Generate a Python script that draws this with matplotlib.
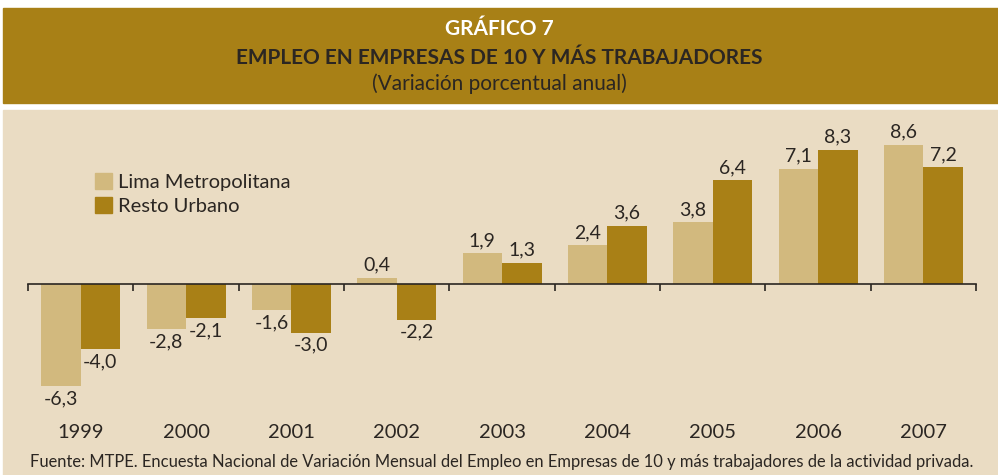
import matplotlib
matplotlib.use("Agg")
from matplotlib import pyplot as plt
from matplotlib import transforms
from matplotlib.patches import Rectangle, Patch

years = ["1999", "2000", "2001", "2002", "2003", "2004", "2005", "2006", "2007"]
lima = [-6.3, -2.8, -1.6, 0.4, 1.9, 2.4, 3.8, 7.1, 8.6]
resto = [-4.0, -2.1, -3.0, -2.2, 1.3, 3.6, 6.4, 8.3, 7.2]
series_names = ["Lima Metropolitana", "Resto Urbano"]

LIMA_COLOR = "#D2B97E"
RESTO_COLOR = "#A98016"
HEADER_COLOR = "#A88016"
PANEL_COLOR = "#EADCC3"
TEXT_COLOR = "#2b2622"

plt.rcParams["font.family"] = ["Lato", "DejaVu Sans"]

W, H = 998, 475
fig = plt.figure(figsize=(W / 100, H / 100), dpi=100)


def fx(px):
    return px / W


def fy(py):
    return 1 - py / H


# header band and panel background
fig.patches.append(Rectangle((fx(3), fy(103)), 1, (103 - 8) / H,
                             transform=fig.transFigure, color=HEADER_COLOR, zorder=-5))
fig.patches.append(Rectangle((fx(3), 0), 1, fy(110),
                             transform=fig.transFigure, color=PANEL_COLOR, zorder=-5))

fig.text(0.5, fy(29), "GRÁFICO 7", ha="center", va="center",
         color="white", fontsize=15, fontweight="bold")
fig.text(0.5, fy(58), "EMPLEO EN EMPRESAS DE 10 Y MÁS TRABAJADORES", ha="center",
         va="center", color=TEXT_COLOR, fontsize=15, fontweight="bold")
fig.text(0.5, fy(84), "(Variación porcentual anual)", ha="center", va="center",
         color=TEXT_COLOR, fontsize=15)

# axes: zero line at y=284 px, ~16.2 px per unit
top_px, bot_px, zero_px, ppu = 120, 410, 284, 16.2
ax = fig.add_axes([fx(28), fy(bot_px), fx(976) - fx(28), (bot_px - top_px) / H])
ax.set_zorder(2)
ax.set_facecolor("none")
ax.set_xlim(0, len(years))
ax.set_ylim(-(bot_px - zero_px) / ppu, (zero_px - top_px) / ppu)

centers = [i + 0.5 for i in range(len(years))]
w = 0.375
b1 = ax.bar([c - w / 2 for c in centers], lima, width=w, color=LIMA_COLOR, zorder=2)
b2 = ax.bar([c + w / 2 for c in centers], resto, width=w, color=RESTO_COLOR, zorder=2)

fmt = lambda v: f"{v:.1f}".replace(".", ",")
for bars, vals in ((b1, lima), (b2, resto)):
    ax.bar_label(bars, labels=[fmt(v) for v in vals], padding=3,
                 fontsize=14, color=TEXT_COLOR)

for s in ("top", "right", "left"):
    ax.spines[s].set_visible(False)
ax.spines["bottom"].set_position(("data", 0))
ax.spines["bottom"].set_color(TEXT_COLOR)
ax.spines["bottom"].set_linewidth(1.2)
ax.spines["bottom"].set_zorder(3)
ax.set_yticks([])
ax.set_xticks(range(len(years) + 1))
ax.set_xticklabels([])
ax.tick_params(axis="x", direction="out", length=5, width=1.2, color=TEXT_COLOR)

year_tr = transforms.blended_transform_factory(ax.transData, fig.transFigure)
for c, yr in zip(centers, years):
    ax.text(c, fy(432), yr, transform=year_tr, ha="center", va="center",
            fontsize=14.5, color=TEXT_COLOR)

handles = [Patch(color=LIMA_COLOR), Patch(color=RESTO_COLOR)]
fig.legend(handles, series_names, loc="upper left", bbox_to_anchor=(fx(85), fy(163)),
           frameon=False, fontsize=14.5, handlelength=0.85, handleheight=0.85,
           handletextpad=0.3, labelspacing=0.3, labelcolor=TEXT_COLOR, borderpad=0)

fig.text(fx(30), fy(462), "Fuente: MTPE. Encuesta Nacional de Variación Mensual del Empleo en "
         "Empresas de 10 y más trabajadores de la actividad privada.",
         ha="left", va="center", fontsize=11.9, color=TEXT_COLOR)

fig.savefig("out.png", dpi=100)
